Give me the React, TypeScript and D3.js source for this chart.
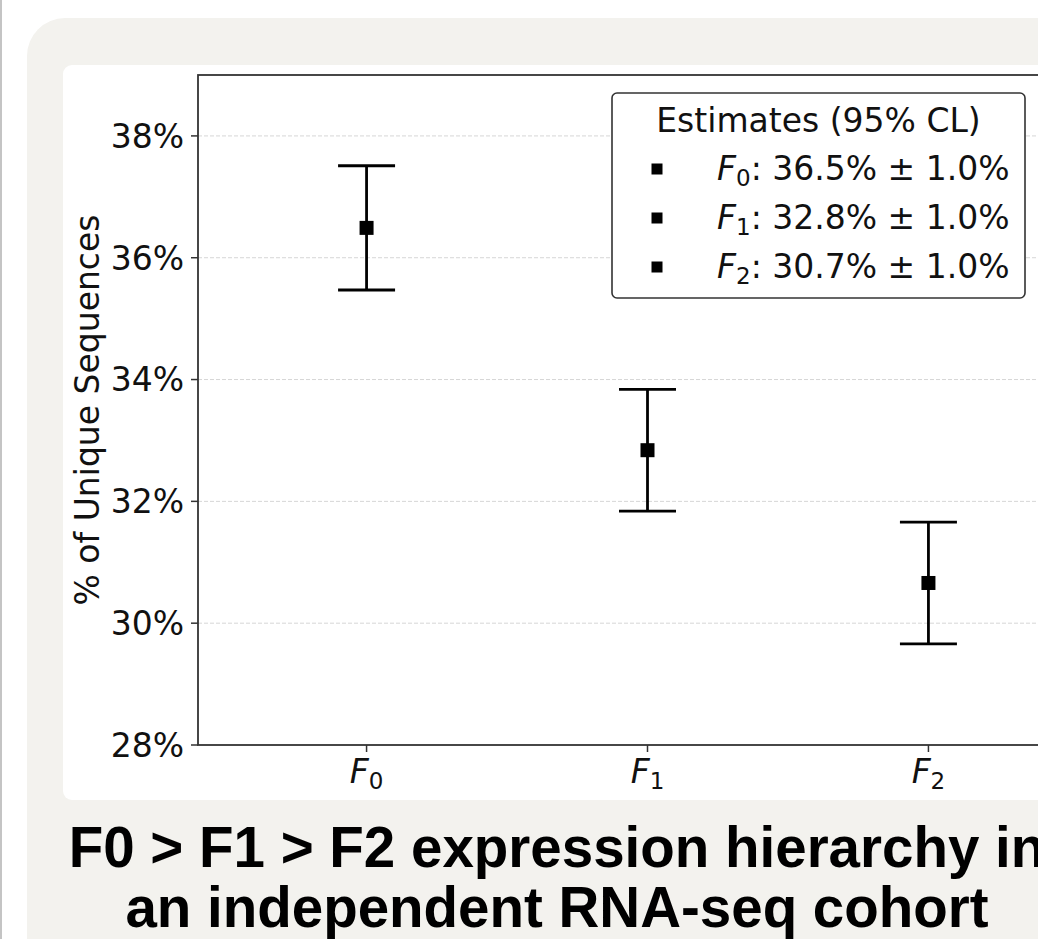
import React from "react";
import * as d3 from "d3";

// data
const categories = ["0", "1", "2"]; // F subscripts
const estimates = [36.49, 32.84, 30.66]; // % of unique sequences
const errors = [1.02, 1.0, 1.0]; // 95% CL half width
const yTicks = [28, 30, 32, 34, 36, 38];
const titleLines = ["F0 > F1 > F2 expression hierarchy in", "an independent RNA-seq cohort"];

const W = 1038,
  H = 939;
const plotL = 198,
  plotT = 75,
  plotB = 745,
  plotR = 1097;
const font = "'DejaVu Sans', sans-serif";

export default function App() {
  const x = d3.scalePoint<string>().domain(categories).range([plotL, plotR]).padding(0.6);
  const y = d3.scaleLinear().domain([28, 39]).range([plotB, plotT]);

  const legendX = 612,
    legendY = 93,
    legendW = 413,
    legendH = 205;
  const rowY = [180, 229, 278];

  return (
    <svg
      width={W}
      height={H}
      style={{ position: "absolute", left: 0, top: 0, background: "#fff" }}
      fontFamily={font}
    >
      <rect x={0} y={0} width={W} height={H} fill="#fff" />
      {/* outer beige card */}
      <rect x={27} y={18} width={1100} height={1000} rx={38} fill="#f3f2ee" />
      {/* white plot panel */}
      <rect x={63} y={65} width={1100} height={735} rx={9} fill="#fff" />
      <line x1={1} x2={1} y1={0} y2={H} stroke="#c4c4c4" strokeWidth={2} />

      {/* grid */}
      <g>
        {yTicks
          .filter((t) => t !== 28)
          .map((t) => (
            <line
              key={t}
              x1={plotL}
              x2={plotR}
              y1={y(t)}
              y2={y(t)}
              stroke="#d6d6d6"
              strokeWidth={1}
              strokeDasharray="4,2"
            />
          ))}
      </g>

      {/* y axis ticks */}
      <g>
        {yTicks.map((t) => (
          <g key={t}>
            <line x1={plotL - 7} x2={plotL} y1={y(t)} y2={y(t)} stroke="#333" strokeWidth={1.5} />
            <text x={plotL - 14} y={y(t)} dy="0.36em" textAnchor="end" fontSize={33} fill="#111">
              {t}%
            </text>
          </g>
        ))}
      </g>

      {/* x axis ticks */}
      <g>
        {categories.map((c) => (
          <g key={c}>
            <line x1={x(c)} x2={x(c)} y1={plotB} y2={plotB + 7} stroke="#333" strokeWidth={1.5} />
            <text x={x(c)} y={783} textAnchor="middle" fontSize={33} fill="#111">
              <tspan fontStyle="italic">F</tspan>
              <tspan fontSize={23} dy={6}>
                {c}
              </tspan>
            </text>
          </g>
        ))}
      </g>

      {/* frame */}
      <rect
        x={plotL}
        y={plotT}
        width={plotR - plotL}
        height={plotB - plotT}
        fill="none"
        stroke="#333"
        strokeWidth={1.8}
      />

      <text
        transform={`translate(87,${(plotT + plotB) / 2}) rotate(-90)`}
        textAnchor="middle"
        dy="0.35em"
        fontSize={33}
        fill="#111"
      >
        % of Unique Sequences
      </text>

      {/* error bars */}
      <g>
        {categories.map((c, i) => {
          const cx = x(c) as number;
          const lo = y(estimates[i] - errors[i]);
          const hi = y(estimates[i] + errors[i]);
          return (
            <g key={c}>
              <line x1={cx} x2={cx} y1={hi} y2={lo} stroke="#000" strokeWidth={2.8} />
              <line x1={cx - 28.5} x2={cx + 28.5} y1={hi} y2={hi} stroke="#000" strokeWidth={2.8} />
              <line x1={cx - 28.5} x2={cx + 28.5} y1={lo} y2={lo} stroke="#000" strokeWidth={2.8} />
              <rect x={cx - 7} y={y(estimates[i]) - 7} width={14} height={14} fill="#000" />
            </g>
          );
        })}
      </g>

      {/* legend */}
      <g>
        <rect
          x={legendX}
          y={legendY}
          width={legendW}
          height={legendH}
          rx={5}
          fill="#fff"
          stroke="#333"
          strokeWidth={1.6}
        />
        <text x={legendX + legendW / 2} y={132} textAnchor="middle" fontSize={33} fill="#111">
          Estimates (95% CL)
        </text>
        {categories.map((c, i) => (
          <g key={c}>
            <rect x={651.5} y={rowY[i] - 16.5} width={11} height={11} fill="#000" />
            <text x={717} y={rowY[i]} fontSize={33} fill="#111">
              <tspan fontStyle="italic">F</tspan>
              <tspan fontSize={23} dy={6}>
                {c}
              </tspan>
              <tspan dy={-6}>
                : {estimates[i].toFixed(1)}% ± {errors[i].toFixed(1)}%
              </tspan>
            </text>
          </g>
        ))}
      </g>

      {/* title */}
      <g fontFamily="'Liberation Sans', Arial, sans-serif" fontWeight="bold" fontSize={56.5} fill="#000">
        {titleLines.map((t, i) => (
          <text key={i} x={557} y={867 + i * 60} textAnchor="middle">
            {t}
          </text>
        ))}
      </g>
    </svg>
  );
}
